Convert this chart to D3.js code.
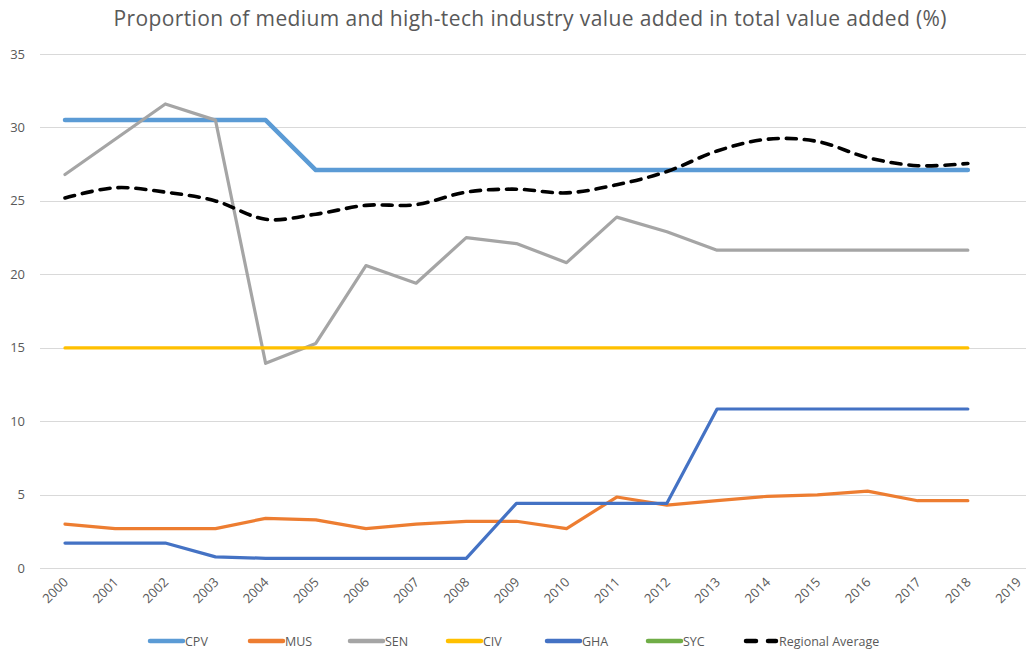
<!DOCTYPE html>
<html>
<head>
<meta charset="utf-8">
<script src="https://cdn.jsdelivr.net/npm/d3@7"></script>
<style>
  body { margin: 0; background: #fff; }
  text { font-family: "Open Sans", "DejaVu Sans", sans-serif; fill: #595959; }
</style>
</head>
<body>
<div id="chart"></div>
<script>
var svgWidth = 1026;
var svgHeight = 653;

// data
var years = d3.range(2000, 2020);
var yTicks = [0, 5, 10, 15, 20, 25, 30, 35];

var cpv = [30.5, 30.5, 30.5, 30.5, 30.5, 27.1, 27.1, 27.1, 27.1, 27.1, 27.1, 27.1, 27.1, 27.1, 27.1, 27.1, 27.1, 27.1, 27.1];
var mus = [3.0, 2.7, 2.7, 2.7, 3.4, 3.3, 2.7, 3.0, 3.2, 3.2, 2.7, 4.85, 4.3, 4.6, 4.9, 5.0, 5.25, 4.6, 4.6];
var sen = [26.8, 29.2, 31.6, 30.5, 13.95, 15.3, 20.6, 19.4, 22.5, 22.1, 20.8, 23.9, 22.9, 21.65, 21.65, 21.65, 21.65, 21.65, 21.65];
var civ = [15, 15, 15, 15, 15, 15, 15, 15, 15, 15, 15, 15, 15, 15, 15, 15, 15, 15, 15];
var gha = [1.72, 1.72, 1.72, 0.78, 0.68, 0.68, 0.68, 0.68, 0.68, 4.42, 4.42, 4.42, 4.42, 10.84, 10.84, 10.84, 10.84, 10.84, 10.84];
var syc = [];
var regional = [25.2, 25.9, 25.6, 25.0, 23.75, 24.1, 24.7, 24.75, 25.6, 25.8, 25.55, 26.1, 27.0, 28.4, 29.2, 29.05, 27.95, 27.4, 27.55];

var series = [
  { name: "CPV", values: cpv, color: "#5B9BD5", width: 4.5 },
  { name: "MUS", values: mus, color: "#ED7D31", width: 3.2 },
  { name: "SEN", values: sen, color: "#A5A5A5", width: 3.2 },
  { name: "CIV", values: civ, color: "#FFC000", width: 3.2 },
  { name: "GHA", values: gha, color: "#4472C4", width: 3.2 },
  { name: "SYC", values: syc, color: "#70AD47", width: 3.2 },
  { name: "Regional Average", values: regional, color: "#000000", width: 3.6, dash: "10,8", smooth: true }
];

var svg = d3.select("#chart")
  .append("svg")
  .attr("width", svgWidth)
  .attr("height", svgHeight);

var xScale = d3.scalePoint()
  .domain(years)
  .range([65, 1018]);

var yScale = d3.scaleLinear()
  .domain([0, 35])
  .range([568.3, 54]);

// title
svg.append("text")
  .attr("x", 530)
  .attr("y", 26)
  .attr("text-anchor", "middle")
  .attr("font-size", "21px")
  .attr("textLength", 833)
  .attr("lengthAdjust", "spacing")
  .text("Proportion of medium and high-tech industry value added in total value added (%)");

// gridlines
svg.append("g")
  .selectAll("line")
  .data(yTicks)
  .enter()
  .append("line")
  .attr("x1", 40)
  .attr("x2", svgWidth)
  .attr("y1", d => Math.round(yScale(d)) + 0.5)
  .attr("y2", d => Math.round(yScale(d)) + 0.5)
  .attr("stroke", "#d9d9d9")
  .attr("stroke-width", 1);

// y labels
svg.append("g")
  .selectAll("text")
  .data(yTicks)
  .enter()
  .append("text")
  .attr("x", 25)
  .attr("y", d => yScale(d) + 4.5)
  .attr("text-anchor", "end")
  .attr("font-size", "13px")
  .text(d => d);

// x labels, rotated
svg.append("g")
  .selectAll("text")
  .data(years)
  .enter()
  .append("text")
  .attr("transform", d => `translate(${xScale(d) + 4}, 583) rotate(-45)`)
  .attr("text-anchor", "end")
  .attr("font-size", "13px")
  .text(d => d);

// lines
var lineGroup = svg.append("g");

series.forEach(function(s) {
  if (!s.values.length) return;
  var line = d3.line()
    .x((d, i) => xScale(years[i]))
    .y(d => yScale(d))
    .curve(s.smooth ? d3.curveCardinal.tension(0) : d3.curveLinear);

  lineGroup.append("path")
    .datum(s.values)
    .attr("d", line)
    .attr("fill", "none")
    .attr("stroke", s.color)
    .attr("stroke-width", s.width)
    .attr("stroke-linejoin", "round")
    .attr("stroke-linecap", "round")
    .attr("stroke-dasharray", s.dash || null);
});

// legend
var legendX = [150, 250, 350, 448, 547, 648, 744];
var legend = svg.append("g");

series.forEach(function(s, i) {
  var g = legend.append("g")
    .attr("transform", `translate(${legendX[i]}, 641)`);
  if (s.dash) {
    g.append("line")
      .attr("x1", 2).attr("x2", 12).attr("y1", 0).attr("y2", 0)
      .attr("stroke", s.color).attr("stroke-width", 4.5).attr("stroke-linecap", "round");
    g.append("line")
      .attr("x1", 24).attr("x2", 32).attr("y1", 0).attr("y2", 0)
      .attr("stroke", s.color).attr("stroke-width", 4.5).attr("stroke-linecap", "round");
  } else {
    g.append("line")
      .attr("x1", 0).attr("x2", 33).attr("y1", 0).attr("y2", 0)
      .attr("stroke", s.color).attr("stroke-width", 4.5).attr("stroke-linecap", "round");
  }
  g.append("text")
    .attr("x", 35)
    .attr("y", 4.5)
    .attr("font-size", "12.5px")
    .text(s.name);
});
</script>
</body>
</html>
